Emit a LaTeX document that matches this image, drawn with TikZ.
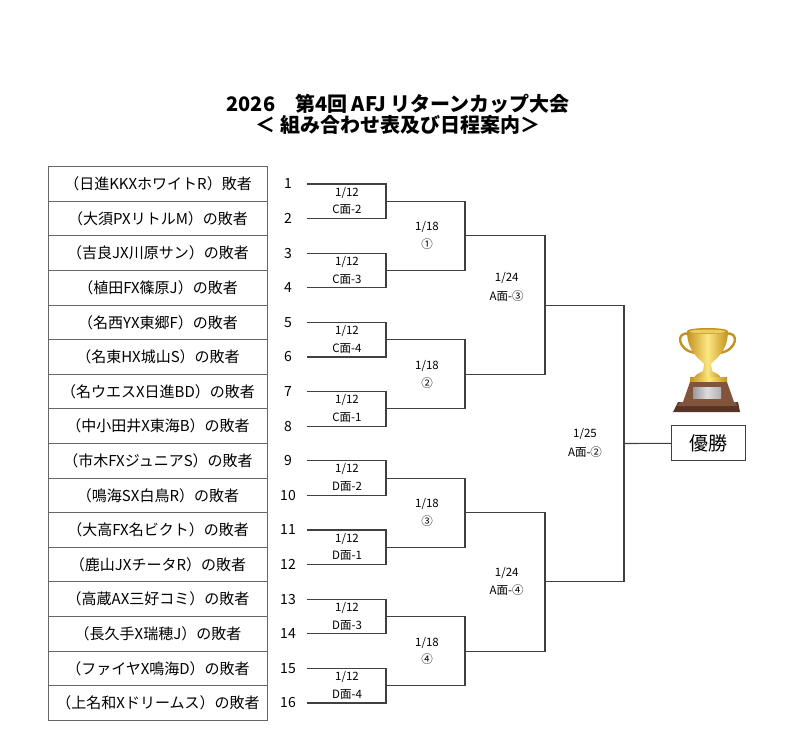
\documentclass[tikz,border=0pt]{standalone}
\usepackage{fontspec}
\setmainfont{Noto Sans CJK JP}
\usetikzlibrary{calc}
\definecolor{goldl}{RGB}{252,230,130}
\definecolor{goldd}{RGB}{196,146,30}
\definecolor{brownl}{RGB}{130,84,60}
\definecolor{brownd}{RGB}{88,52,36}
\definecolor{plate}{RGB}{220,220,222}

\begin{document}
\begin{tikzpicture}[x=1pt,y=-1pt,
    line/.style={draw=black!75, line width=1.1pt},
    team/.style={draw=black!60, line width=0.9pt, minimum width=219.4pt, minimum height=34.6pt, inner sep=0pt, font=\fontsize{15}{15}\selectfont},
    num/.style={inner sep=0pt, font=\fontsize{14}{14}\selectfont},
    lab/.style={inner sep=0pt, font=\fontsize{11.5}{11.5}\selectfont}]
  \useasboundingbox (0,0) rectangle (796,752);
  \node[font=\fontsize{20}{20}\selectfont\bfseries] (title) at (398,103.5) {2026\quad 第4回 AFJ リターンカップ大会};
  \node[font=\fontsize{20}{20}\selectfont\bfseries] (subtitle) at (398,124.5) {＜ 組み合わせ表及び日程案内＞};

  \foreach \i/\t in {1/{（日進KKXホワイトR）敗者}, 2/{（大須PXリトルM）の敗者}, 3/{（吉良JX川原サン）の敗者},
      4/{（植田FX篠原J）の敗者}, 5/{（名西YX東郷F）の敗者}, 6/{（名東HX城山S）の敗者},
      7/{（名ウエスX日進BD）の敗者}, 8/{（中小田井X東海B）の敗者}, 9/{（市木FXジュニアS）の敗者},
      10/{（鳴海SX白鳥R）の敗者}, 11/{（大高FX名ビクト）の敗者}, 12/{（鹿山JXチータR）の敗者},
      13/{（高蔵AX三好コミ）の敗者}, 14/{（長久手X瑞穂J）の敗者}, 15/{（ファイヤX鳴海D）の敗者},
      16/{（上名和Xドリームス）の敗者}} {
    \node[team] (t\i) at (158,{166.7+34.6*(\i-0.5)}) {\t};
    \node[num] (n\i) at (288,{166.7+34.6*(\i-0.5)}) {\i};
    \coordinate (a\i) at (307,{166.7+34.6*(\i-0.5)});
  }

  \foreach \j/\c [evaluate=\j as \i using int(2*\j-1), evaluate=\j as \k using int(2*\j)] in
      {1/C面-2, 2/C面-3, 3/C面-4, 4/C面-1, 5/D面-2, 6/D面-1, 7/D面-3, 8/D面-4} {
    \draw[line] (a\i) -| ($(a\i)!0.5!(a\k)+(79,0)$) coordinate (p\j) |- (a\k);
    \node[lab] (da\j) at ($(a\i)+(40,8.6)$) {1/12};
    \node[lab] (db\j) at ($(a\i)+(40,26)$) {\c};
  }

  \foreach \q/\c [evaluate=\q as \i using int(2*\q-1), evaluate=\q as \k using int(2*\q)] in
      {1/①, 2/②, 3/③, 4/④} {
    \draw[line] (p\i) -| ($(p\i)!0.5!(p\k)+(79,0)$) coordinate (r\q) |- (p\k);
    \node[lab] (ea\q) at ($(r\q)+(-38,-8.5)$) {1/18};
    \node[lab] (eb\q) at ($(r\q)+(-38,8.5)$) {\c};
  }

  \draw[line] (r1) -| ($(r1)!0.5!(r2)+(80,0)$) coordinate (s1) |- (r2);
  \draw[line] (r3) -| ($(r3)!0.5!(r4)+(80,0)$) coordinate (s2) |- (r4);
  \node[lab] (fa1) at (506.7,278.3) {1/24};
  \node[lab] (fb1) at (506.7,295.7) {A面-③};
  \node[lab] (fa2) at (506.7,573.3) {1/24};
  \node[lab] (fb2) at (506.7,590) {A面-④};

  \node[draw=black!75, line width=1.1pt, minimum width=74pt, minimum height=35pt, inner sep=0pt,
      font=\fontsize{19}{19}\selectfont] (champ) at (708.7,443.2) {優勝};
  \draw[line] (s1) -| ($(s1)!0.5!(s2)+(79,0)$) coordinate (f) |- (s2);
  \draw[line] (f) -- (champ);
  \node[lab] (ga) at (585,434) {1/25};
  \node[lab] (gb) at (585,451.7) {A面-②};

  \draw[goldd, line width=2.4pt] (690,334) .. controls (675,330) and (677,351) .. (696,353);
  \draw[goldd, line width=2.4pt] (725,334) .. controls (740,330) and (738,351) .. (719,353);
  \shade[left color=goldd, right color=goldd, middle color=goldl] (687,331) -- (728,331)
      .. controls (728,352) and (715,359) .. (711,364) -- (704,364) .. controls (700,359) and (687,352) .. (687,331) -- cycle;
  \fill[goldd] (707.5,331) ellipse (20.5 and 3);
  \fill[goldl!70!goldd] (707.5,331.5) ellipse (18 and 2);
  \shade[left color=goldd, right color=goldd, middle color=goldl] (704,364) -- (711,364) -- (712,371)
      .. controls (716,373) and (720,375) .. (721,378) -- (694,378) .. controls (695,375) and (699,373) .. (703,371) -- cycle;
  \shade[left color=goldd, right color=goldd, middle color=goldl] (690,377) rectangle (727,382);
  \fill[brownl] (690,382) -- (727,382) -- (734,402) -- (683,402) -- cycle;
  \shade[left color=plate!70!black, right color=plate!80!black, middle color=plate] (693,387) rectangle (721,398);
  \fill[brownd] (678,402) -- (738,402) -- (740,412) -- (673,412) -- cycle;
  \fill[brownl] (680,402) -- (736,402) -- (737,406) -- (677,406) -- cycle;
\end{tikzpicture}
\end{document}
